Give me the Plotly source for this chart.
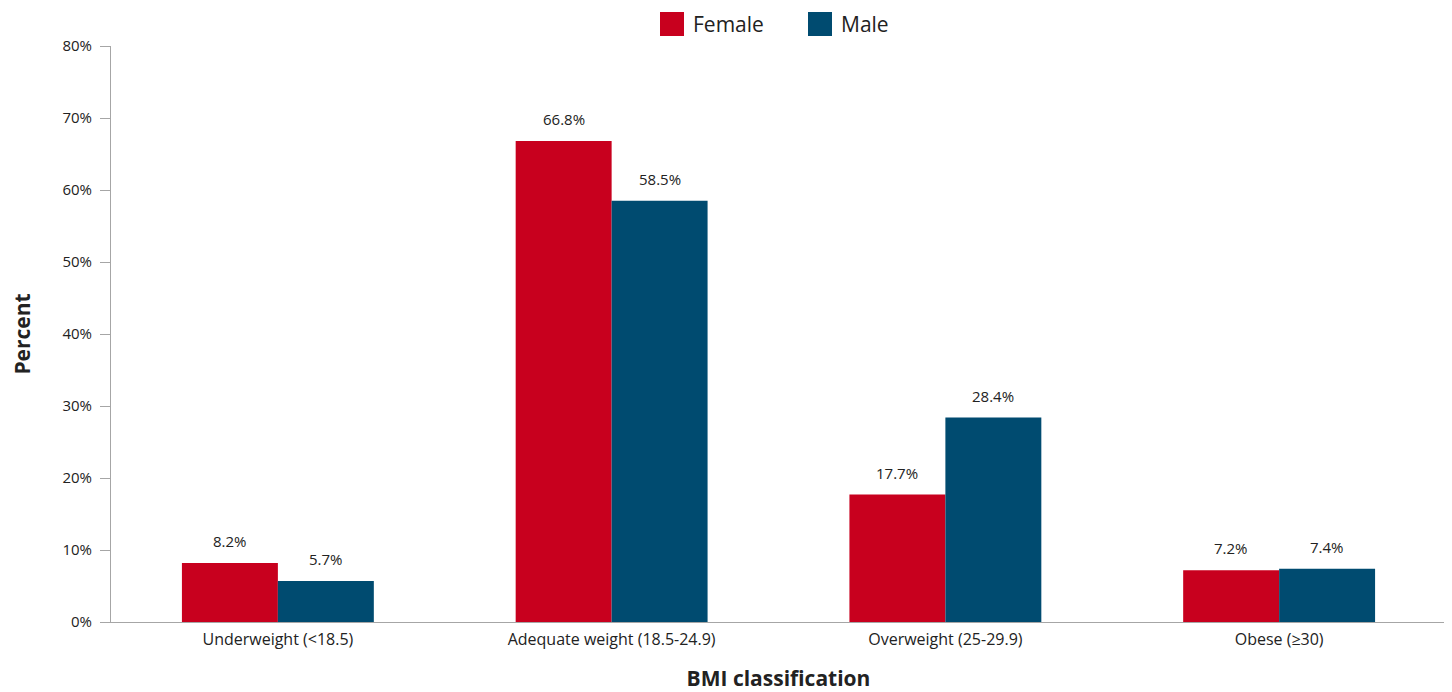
import plotly.graph_objects as go

categories = ["Underweight (<18.5)", "Adequate weight (18.5-24.9)", "Overweight (25-29.9)", "Obese (≥30)"]
female = [8.2, 66.8, 17.7, 7.2]
male = [5.7, 58.5, 28.4, 7.4]
y_ticks = [0, 10, 20, 30, 40, 50, 60, 70, 80]
y_tick_labels = [f"{t}%" for t in y_ticks]

FONT = "Open Sans, Noto Sans, sans-serif"
RED = "#c8001e"
BLUE = "#004b70"
TXT = "#222222"

# the page body has an 8px margin, so the figure is a bit smaller than the window
PAGE_PAD = 8
W, H = 1440, 692 - PAGE_PAD
# plot area on screen: x 111..1446, y 46..622
X0, X1, Y0, Y1 = 111, 1446, 46, 622
L, R, T, B = X0 - PAGE_PAD, (W + PAGE_PAD) - X1, Y0 - PAGE_PAD, (H + PAGE_PAD) - Y1
PW, PH = X1 - X0, Y1 - Y0
BARGAP = 0.425


def px_x(p):
    return (p - X0) / PW


def px_y(p):
    return (Y1 - p) / PH


fig = go.Figure()
fig.add_trace(go.Bar(x=categories, y=female, name="Female",
                     marker=dict(color=RED, line=dict(width=0)), showlegend=False))
fig.add_trace(go.Bar(x=categories, y=male, name="Male",
                     marker=dict(color=BLUE, line=dict(width=0)), showlegend=False))

# value labels above the bars
cat_px = PW / len(categories)
off = (1 - BARGAP) / 4 * cat_px
for series, shift in ((female, -off), (male, off)):
    for c, v in zip(categories, series):
        fig.add_annotation(x=c, y=v, text=f"{v}%", showarrow=False, xshift=shift,
                           yshift=22, yanchor="middle",
                           font=dict(size=15, color=TXT, family=FONT))

# legend drawn by hand (large squares)
for name, color, sq_left in (("Female", RED, 660), ("Male", BLUE, 808)):
    fig.add_shape(type="rect", xref="paper", yref="paper",
                  x0=px_x(sq_left), x1=px_x(sq_left + 24), y0=px_y(36), y1=px_y(12),
                  fillcolor=color, line=dict(width=0))
    fig.add_annotation(xref="paper", yref="paper", x=px_x(sq_left + 31), y=px_y(8),
                       text=name, showarrow=False, xanchor="left", yanchor="top",
                       font=dict(size=21, color=TXT, family=FONT))

fig.update_layout(
    width=W, height=H,
    barmode="group", bargap=BARGAP, bargroupgap=0,
    plot_bgcolor="white", paper_bgcolor="white",
    font=dict(family=FONT, color=TXT),
    margin=dict(l=L, r=R, t=T, b=B, pad=0),
    showlegend=False,
    xaxis=dict(
        title=dict(text="<b>BMI classification</b>", font=dict(size=21), standoff=24),
        showline=True, linecolor="#a6a6a6", linewidth=1, ticks="", showgrid=False,
        tickfont=dict(size=16), ticklabelstandoff=3, automargin=False,
    ),
    yaxis=dict(
        title=dict(text="<b>Percent</b>", font=dict(size=21), standoff=43),
        range=[0, 80], tickvals=y_ticks, ticktext=y_tick_labels,
        showline=True, linecolor="#a6a6a6", linewidth=1, ticks="outside",
        tickcolor="#a6a6a6", ticklen=10, showgrid=False, zeroline=False,
        tickfont=dict(size=15), ticklabelstandoff=5, automargin=False,
    ),
)

fig.write_html("out.html")
